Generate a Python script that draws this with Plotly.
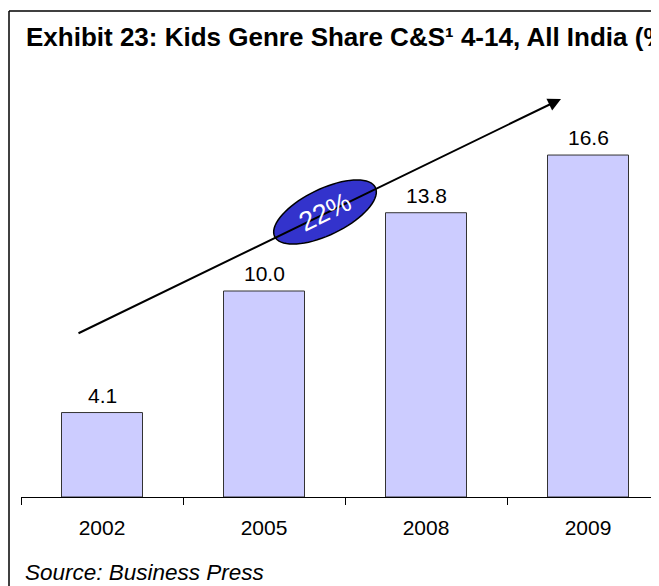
import math
import plotly.graph_objects as go

# ---- data ----
years = ["2002", "2005", "2008", "2009"]
share = [4.1, 10.0, 13.8, 16.6]
labels = ["4.1", "10.0", "13.8", "16.6"]
cagr_text = "22%"
title_text = "<b>Exhibit 23: Kids Genre Share C&S¹ 4-14, All India (%)</b>"
source_text = "<i>Source: Business Press</i>"

# ---- layout constants (pixels in the screenshot; page body has an 8px margin) ----
OFF = 8
W, H = 659 - 2 * OFF, 586 - OFF
PLOT_L, PLOT_T, PLOT_B = 21, 60, 497          # screenshot pixels
ML, MR, MT = PLOT_L - OFF, 0, PLOT_T - OFF
MB = H - (PLOT_B - OFF)
PW, PH = W - ML - MR, H - MT - MB
CAT_PX = 162.0
XMIN = -0.5
XMAX = XMIN + PW / CAT_PX
YPX = 20.6
YMAX = PH / YPX
FONT = "Liberation Sans, Arial, sans-serif"


def px2x(px):
    return XMIN + (px - PLOT_L) / CAT_PX


def px2y(py):
    return (PLOT_B - py) / YPX


def px2paper_x(px):
    return (px - PLOT_L) / PW


def px2paper_y(py):
    return (PLOT_B - py) / PH


fig = go.Figure()
fig.add_trace(go.Bar(
    x=years, y=share, width=0.5,
    marker=dict(color="#CCCCFF", line=dict(color="#333333", width=1)),
    hoverinfo="skip",
))

annotations = []
for i, (v, lab) in enumerate(zip(share, labels)):
    annotations.append(dict(
        x=i, y=v, xref="x", yref="y", text=lab, showarrow=False,
        yanchor="bottom", yshift=4,
        font=dict(family=FONT, size=21, color="black"),
    ))

# trend arrow
annotations.append(dict(
    x=px2x(561), y=px2y(99), xref="x", yref="y",
    ax=px2x(77), ay=px2y(334), axref="x", ayref="y",
    text="", showarrow=True, arrowhead=2, arrowsize=1.3, arrowwidth=2,
    arrowcolor="black", standoff=0, startstandoff=0,
))

# ellipse label
cx, cy, a, b = 325, 212, 56, 23
ang = math.radians(26)
pts = []
for k in range(73):
    t = 2 * math.pi * k / 72
    ex = a * math.cos(t)
    ey = b * math.sin(t)
    px = cx + ex * math.cos(ang) + ey * math.sin(ang)
    py = cy - ex * math.sin(ang) + ey * math.cos(ang)
    pts.append((px2x(px), px2y(py)))
path = "M " + " L ".join(f"{x:.5f},{y:.5f}" for x, y in pts) + " Z"

annotations.append(dict(
    x=px2x(cx), y=px2y(cy), xref="x", yref="y", text=cagr_text,
    showarrow=False, textangle=-26,
    font=dict(family=FONT, size=27, color="white"),
))

annotations.append(dict(
    x=px2paper_x(24), y=px2paper_y(37), xref="paper", yref="paper",
    text=title_text, showarrow=False, xanchor="left", yanchor="middle",
    font=dict(family=FONT, size=26, color="black"),
))
annotations.append(dict(
    x=px2paper_x(23), y=px2paper_y(572), xref="paper", yref="paper",
    text=source_text, showarrow=False, xanchor="left", yanchor="middle",
    font=dict(family=FONT, size=22.5, color="black"),
))

shapes = [
    dict(type="path", xref="x", yref="y", path=path,
         fillcolor="#3333CC", line=dict(color="black", width=1.5), layer="above"),
    dict(type="line", xref="paper", yref="paper",
         x0=px2paper_x(9), x1=px2paper_x(9), y0=px2paper_y(11), y1=px2paper_y(600),
         line=dict(color="black", width=1.5)),
    dict(type="line", xref="paper", yref="paper",
         x0=px2paper_x(9), x1=px2paper_x(680), y0=px2paper_y(11), y1=px2paper_y(11),
         line=dict(color="black", width=1.5)),
]

fig.update_layout(
    width=W, height=H,
    margin=dict(l=ML, r=MR, t=MT, b=MB, pad=0),
    paper_bgcolor="white", plot_bgcolor="white",
    showlegend=False,
    annotations=annotations, shapes=shapes,
    xaxis=dict(
        type="category", range=[XMIN, XMAX], tickson="boundaries",
        ticks="outside", ticklen=7, tickwidth=1, tickcolor="black",
        showline=True, linecolor="black", linewidth=1.3,
        showgrid=False, zeroline=False,
        tickfont=dict(family=FONT, size=21, color="black"),
        ticklabelstandoff=12,
    ),
    yaxis=dict(range=[0, YMAX], visible=False, showgrid=False, zeroline=False),
)

fig.write_html("out.html")
